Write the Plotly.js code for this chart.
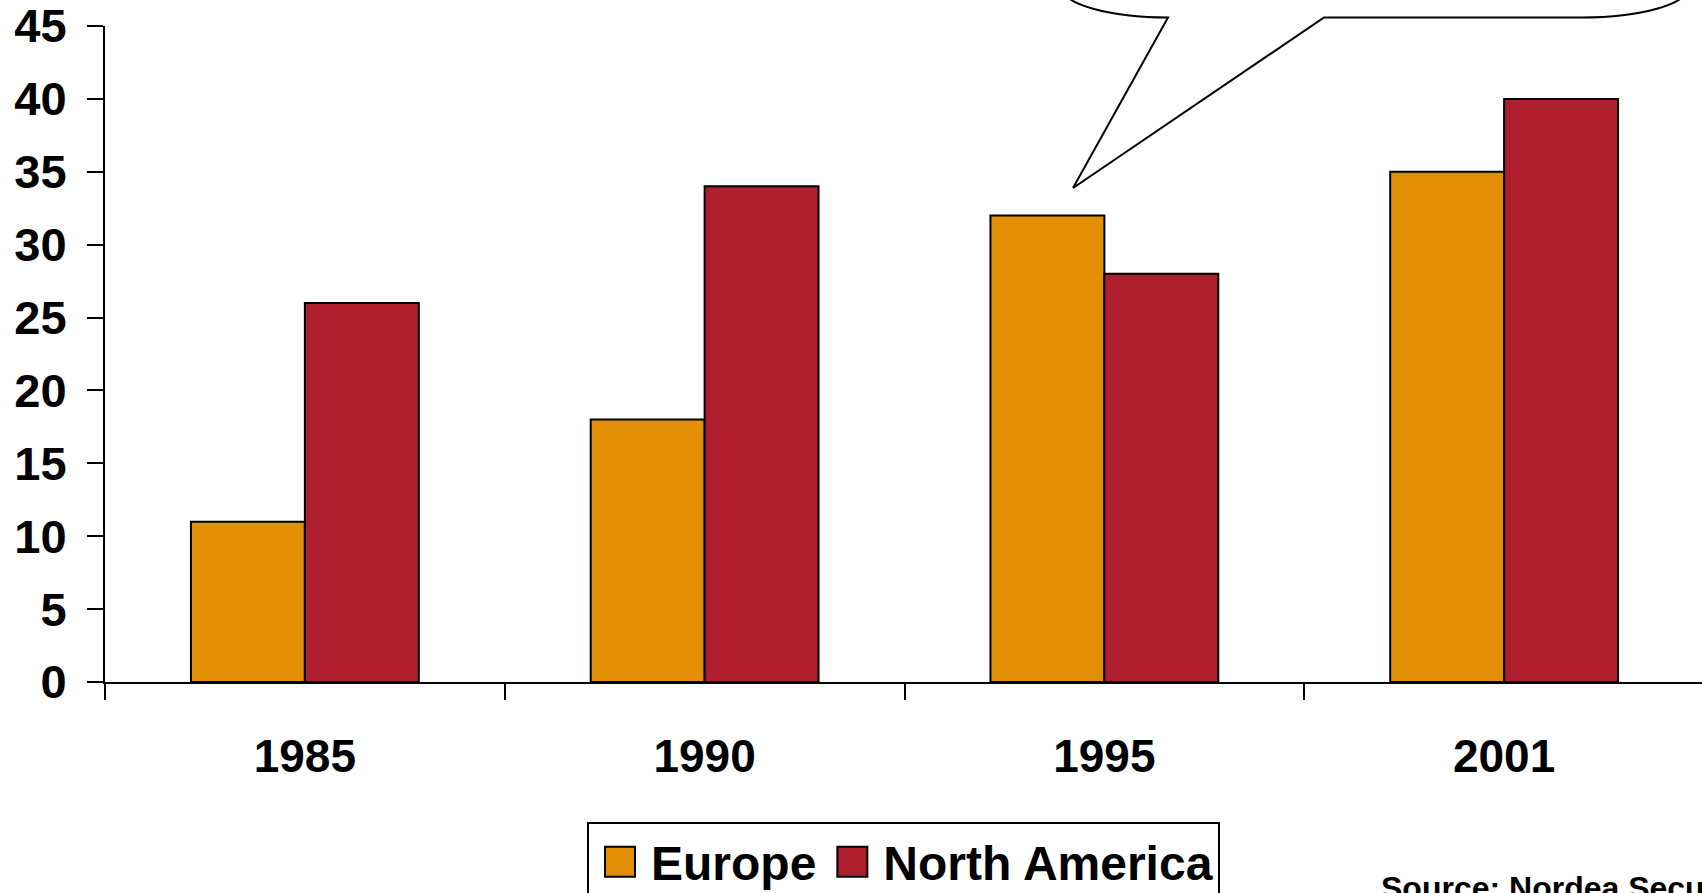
<!DOCTYPE html>
<html>
<head>
<meta charset="utf-8">
<script src="https://cdn.plot.ly/plotly-3.0.1.min.js"></script>
<style>
  html, body { margin: 0; padding: 0; background: #fff; overflow: hidden; }
  #chart { width: 1702px; height: 893px; }
</style>
</head>
<body>
<div id="chart"></div>
<script>
// Years on the category axis
const years = ['1985', '1990', '1995', '2001'];
// Series values
const europe = [11, 18, 32, 35];
const northAmerica = [26, 34, 28, 40];
const seriesNames = ['Europe', 'North America'];
// Value axis ticks
const yTickValues = [0, 5, 10, 15, 20, 25, 30, 35, 40, 45];
const yTickLabels = ['0', '5', '10', '15', '20', '25', '30', '35', '40', '45'];
// Footnote
const sourceNote = 'Source: Nordea Securities';

const W = 1702, H = 893;
const M = { l: 105, r: 0, t: 26, b: 211, autoexpand: false };
const plotW = W - M.l - M.r, plotH = H - M.t - M.b;
// pixel -> paper conversion for the speech balloon outline
const px = x => ((x - M.l) / plotW).toFixed(5);
const py = y => ((H - M.b - y) / plotH).toFixed(5);

const FONT = 'Liberation Sans, Arial, Helvetica, sans-serif';
const EUROPE_COLOR = '#E38F06';
const NA_COLOR = '#AF1E2D';

const balloon =
  'M' + px(1062) + ',' + py(-12.5) +
  ' C' + px(1062) + ',' + py(4.1) + ' ' + px(1109.5) + ',' + py(17.5) + ' ' + px(1168) + ',' + py(17.5) +
  ' L' + px(1073) + ',' + py(188) +
  ' L' + px(1324) + ',' + py(17.5) +
  ' L' + px(1582) + ',' + py(17.5) +
  ' C' + px(1640.5) + ',' + py(17.5) + ' ' + px(1688) + ',' + py(4.1) + ' ' + px(1688) + ',' + py(-12.5) +
  ' L' + px(1688) + ',' + py(-80) +
  ' L' + px(1062) + ',' + py(-80) + ' Z';

const traces = [
  {
    type: 'bar', name: seriesNames[0], x: years, y: europe,
    marker: { color: EUROPE_COLOR, line: { color: '#000', width: 2 } },
    hoverinfo: 'skip'
  },
  {
    type: 'bar', name: seriesNames[1], x: years, y: northAmerica,
    marker: { color: NA_COLOR, line: { color: '#000', width: 2 } },
    hoverinfo: 'skip'
  }
];

const layout = {
  width: W, height: H,
  margin: M,
  paper_bgcolor: '#fff', plot_bgcolor: '#fff',
  barmode: 'group', bargap: 0.43, bargroupgap: 0,
  font: { family: FONT, color: '#000' },
  xaxis: {
    type: 'category',
    range: [-0.5, 3.495],
    showline: true, linecolor: '#000', linewidth: 2,
    showgrid: false, zeroline: false,
    ticks: 'outside', tickson: 'boundaries', ticklen: 16, tickwidth: 2, tickcolor: '#000',
    ticklabelstandoff: 33,
    tickfont: { family: FONT, size: 46, color: '#000', weight: 'bold' }
  },
  yaxis: {
    range: [0, 45],
    tickvals: yTickValues, ticktext: yTickLabels,
    showline: true, linecolor: '#000', linewidth: 2,
    showgrid: false, zeroline: false,
    ticks: 'outside', ticklen: 16, tickwidth: 2, tickcolor: '#000',
    ticklabelstandoff: 11,
    ticklabeloverflow: 'allow',
    tickfont: { family: FONT, size: 47, color: '#000', weight: 'bold' }
  },
  showlegend: true,
  legend: {
    orientation: 'h',
    x: (587 - M.l) / plotW, xanchor: 'left',
    y: (H - M.b - 822) / plotH, yanchor: 'top',
    bgcolor: '#fff', bordercolor: '#000', borderwidth: 2,
    traceorder: 'normal', itemwidth: 52,
    font: { family: FONT, size: 48, color: '#000', weight: 'bold' }
  },
  shapes: [
    {
      type: 'path', xref: 'paper', yref: 'paper', path: balloon,
      fillcolor: '#fff', line: { color: '#000', width: 2 }
    }
  ],
  annotations: [
    {
      xref: 'paper', yref: 'paper',
      x: (1379 - M.l) / plotW, xanchor: 'left',
      y: (H - M.b - 888) / plotH, yanchor: 'middle',
      text: sourceNote, showarrow: false,
      font: { family: FONT, size: 32, color: '#000', weight: 'bold' }
    }
  ]
};

Plotly.newPlot('chart', traces, layout, { displayModeBar: false, staticPlot: true }).then(gd => {
  // enlarge the square legend swatches
  gd.querySelectorAll('.legend .legendpoints path').forEach(p => {
    p.setAttribute('d', 'M15,15H-15V-15H15Z');
  });
});
</script>
</body>
</html>
